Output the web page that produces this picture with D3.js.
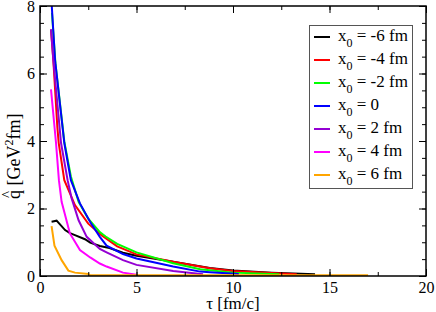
<!DOCTYPE html>
<html>
<head>
<meta charset="utf-8">
<script src="https://cdn.jsdelivr.net/npm/d3@7"></script>
<style>
  body { margin: 0; background: #fff; }
</style>
</head>
<body>
<svg id="chart" width="436" height="312"></svg>
<script>
// curves: [tau (fm/c), qhat (GeV^2 fm)]
var xm6 = [[0.6,1.61],[0.86,1.64],[1.3,1.36],[1.55,1.27],[1.81,1.21],[2.33,1.09],[2.6,0.99],[3.1,0.89],[3.6,0.83],[4.3,0.69],[5,0.6],[6.9,0.42],[8.8,0.24],[10,0.16],[12,0.1],[14.25,0.05]];
var xm4 = [[0.57,7.3],[0.69,6.4],[0.9,4.4],[0.97,3.94],[1.26,2.84],[1.81,2.1],[2.5,1.55],[3.2,1.2],[4,0.88],[5,0.64],[6.9,0.42],[8.8,0.23],[10,0.15],[12,0.09],[13.3,0.05]];
var xm2 = [[0.62,7.8],[0.8,6.3],[1.26,3.98],[1.6,2.95],[2.0,2.2],[2.5,1.7],[3.1,1.3],[3.4,1.17],[4,0.95],[5,0.7],[6.9,0.38],[8.3,0.2],[10,0.1],[12.4,0.05]];
var x00 = [[0.61,8.0],[0.78,6.4],[1.26,3.94],[1.6,2.84],[2.07,2.15],[2.6,1.6],[3.1,1.16],[3.45,0.9],[4.3,0.65],[5,0.52],[6.9,0.28],[8.3,0.13],[8.8,0.11],[10.3,0.06]];
var xp2 = [[0.57,7.31],[0.69,6.4],[1.09,3.94],[1.43,2.84],[1.64,2.3],[2.0,1.65],[2.42,1.16],[3.1,0.8],[3.45,0.7],[4.3,0.47],[5,0.33],[6.9,0.15],[8.45,0.05]];
var xp4 = [[0.57,5.53],[0.83,3.94],[0.98,2.84],[1.12,2.2],[1.55,1.26],[2.07,0.77],[2.6,0.55],[3.1,0.37],[3.45,0.28],[4.3,0.1],[5.0,0.04]];
var xp6 = [[0.6,1.48],[0.75,0.9],[1.12,0.47],[1.47,0.16],[1.81,0.1],[2.5,0.06],[2.6,0.02],[17,0.02]];

var seriesNames = ["-6 fm", "-4 fm", "-2 fm", "0", "2 fm", "4 fm", "6 fm"];
var seriesData = [xm6, xm4, xm2, x00, xp2, xp4, xp6];
var seriesColors = ["#000000", "#ff0000", "#00ff00", "#0000ff", "#9400d3", "#ff00ff", "#ffa500"];

var xTicks = [0, 5, 10, 15, 20];
var yTicks = [0, 2, 4, 6, 8];

var serif = "'Liberation Serif', 'Times New Roman', Times, serif";
var svg = d3.select("#chart").attr("font-family", serif);
var pl = 40, pr = 426, pt = 6, pb = 276;

var x = d3.scaleLinear().domain([0, 20]).range([pl, pr]);
var y = d3.scaleLinear().domain([0, 8]).range([pb, pt]);

svg.append("clipPath").attr("id", "clip")
  .append("rect").attr("x", pl).attr("y", pt)
  .attr("width", pr - pl).attr("height", pb - pt);

var line = d3.line().x(d => x(d[0])).y(d => y(d[1]));

svg.append("g").attr("clip-path", "url(#clip)")
  .selectAll("path").data(seriesData).enter().append("path")
  .attr("d", line)
  .attr("fill", "none")
  .attr("stroke", (d, i) => seriesColors[i])
  .attr("stroke-width", 2);

// axes, ticks inward on all four sides
function styleAxis(g) {
  g.attr("font-family", serif).attr("font-size", 16);
  g.select(".domain").remove();
  g.selectAll("line").attr("stroke", "#000").attr("stroke-width", 1);
}
var minorX = d3.range(0, 20.01, 2.5), minorY = d3.range(0, 8.01, 0.5);

svg.append("g").attr("transform", "translate(0," + pb + ")")
  .call(d3.axisBottom(x).tickValues(minorX).tickSize(-4).tickFormat(""))
  .call(styleAxis);
svg.append("g").attr("transform", "translate(0," + pb + ")")
  .call(d3.axisBottom(x).tickValues(xTicks).tickSize(-7).tickPadding(6).tickFormat(d3.format("d")))
  .call(styleAxis);
svg.append("g").attr("transform", "translate(0," + pt + ")")
  .call(d3.axisTop(x).tickValues(minorX).tickSize(-4).tickFormat(""))
  .call(styleAxis);
svg.append("g").attr("transform", "translate(0," + pt + ")")
  .call(d3.axisTop(x).tickValues(xTicks).tickSize(-7).tickFormat(""))
  .call(styleAxis);
svg.append("g").attr("transform", "translate(" + pl + ",0)")
  .call(d3.axisLeft(y).tickValues(minorY).tickSize(-4).tickFormat(""))
  .call(styleAxis);
svg.append("g").attr("transform", "translate(" + pl + ",0)")
  .call(d3.axisLeft(y).tickValues(yTicks).tickSize(-7).tickPadding(5).tickFormat(d3.format("d")))
  .call(styleAxis);
svg.append("g").attr("transform", "translate(" + pr + ",0)")
  .call(d3.axisRight(y).tickValues(minorY).tickSize(-4).tickFormat(""))
  .call(styleAxis);
svg.append("g").attr("transform", "translate(" + pr + ",0)")
  .call(d3.axisRight(y).tickValues(yTicks).tickSize(-7).tickFormat(""))
  .call(styleAxis);

svg.append("rect").attr("x", pl).attr("y", pt)
  .attr("width", pr - pl).attr("height", pb - pt)
  .attr("fill", "none").attr("stroke", "#000").attr("stroke-width", 1.5);

// axis titles
svg.append("text").attr("x", (pl + pr) / 2).attr("y", 309)
  .attr("text-anchor", "middle").attr("font-size", 17).text("τ [fm/c]");

var yl = svg.append("g").attr("transform", "translate(20,199) rotate(-90)");
var ylt = yl.append("text").attr("font-size", 18);
ylt.append("tspan").text("q [GeV");
ylt.append("tspan").attr("font-size", 12).attr("dy", -7).text("2");
ylt.append("tspan").attr("dy", 7).text("fm]");
yl.append("text").attr("x", 1).attr("y", -8).attr("font-size", 15).text("^");

// legend
var lg = svg.append("g");
lg.append("rect").attr("x", 309.5).attr("y", 25.5).attr("width", 103).attr("height", 163)
  .attr("fill", "#fff").attr("stroke", "#555").attr("stroke-width", 1);
var item = lg.selectAll("g.item").data(seriesNames).enter().append("g")
  .attr("transform", (d, i) => "translate(0," + (37 + i * 23) + ")");
item.append("line").attr("x1", 314).attr("x2", 330).attr("y1", 0).attr("y2", 0)
  .attr("stroke", (d, i) => seriesColors[i]).attr("stroke-width", 2);
var lt = item.append("text").attr("x", 338).attr("y", 4).attr("font-size", 17);
lt.append("tspan").text("x");
lt.append("tspan").attr("font-size", 12).attr("dy", 6).text("0");
lt.append("tspan").attr("dy", -6).text(d => " = " + d);
</script>
</body>
</html>
